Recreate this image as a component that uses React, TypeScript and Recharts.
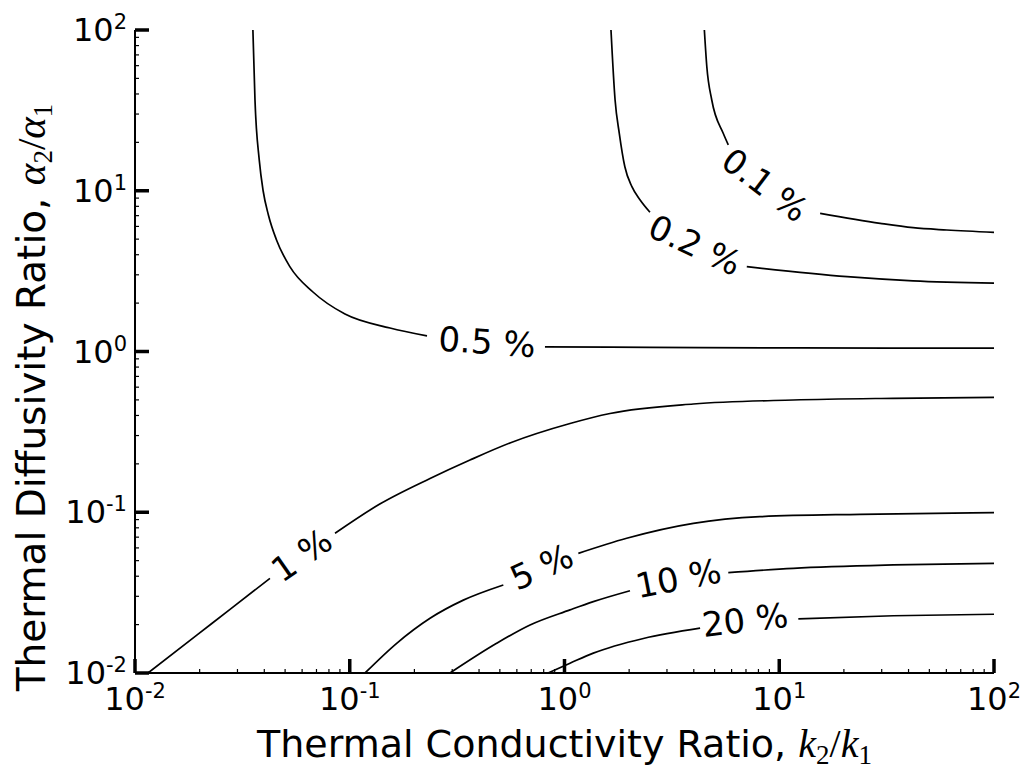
import React from 'react';
import { ComposedChart, Line, Scatter, XAxis, YAxis } from 'recharts';

const FONT = '"DejaVu Sans", sans-serif';
const MATH = '"Liberation Serif", "DejaVu Serif", serif';

const decades = [0.01, 0.1, 1, 10, 100];
const decadeExponents = ['-2', '-1', '0', '1', '2'];
const minorTicks = [
  0.02, 0.03, 0.04, 0.05, 0.06, 0.07, 0.08, 0.09,
  0.2, 0.3, 0.4, 0.5, 0.6, 0.7, 0.8, 0.9,
  2, 3, 4, 5, 6, 7, 8, 9,
  20, 30, 40, 50, 60, 70, 80, 90,
];
const axisTicks = [...decades, ...minorTicks].sort((a, b) => a - b);

// contour segments as (k2/k1, alpha2/alpha1); each contour is cut where its label sits
const c01Upper = [
  { x: 4.48, y: 100 }, { x: 4.6, y: 59.1 }, { x: 4.85, y: 36.7 }, { x: 5.49, y: 22.7 }, { x: 5.79, y: 19.3 },
];
const c01Lower = [
  { x: 15.5, y: 7.24 }, { x: 29.5, y: 6.27 }, { x: 42, y: 5.89 }, { x: 60.3, y: 5.7 }, { x: 100, y: 5.51 },
];
const c02Upper = [
  { x: 1.646, y: 100 }, { x: 1.72, y: 36.7 }, { x: 1.8, y: 22.7 }, { x: 1.91, y: 14.1 },
  { x: 2.06, y: 10.6 }, { x: 2.25, y: 8.76 }, { x: 2.5, y: 7.35 },
];
const c02Lower = [
  { x: 7.06, y: 3.37 }, { x: 20.7, y: 2.92 }, { x: 42, y: 2.75 }, { x: 100, y: 2.66 },
];
const c05Upper = [
  { x: 0.0354, y: 100 }, { x: 0.0362, y: 36.7 }, { x: 0.0379, y: 15.5 }, { x: 0.0395, y: 10 },
  { x: 0.0418, y: 7.07 }, { x: 0.0456, y: 4.94 }, { x: 0.0527, y: 3.36 }, { x: 0.0674, y: 2.345 },
  { x: 0.095, y: 1.711 }, { x: 0.154, y: 1.4 }, { x: 0.229, y: 1.25 },
];
const c05Lower = [
  { x: 0.811, y: 1.07 }, { x: 2.5, y: 1.06 }, { x: 12, y: 1.053 }, { x: 100, y: 1.05 },
];
const c1Left = [
  { x: 0.0115, y: 0.01 }, { x: 0.0194, y: 0.0172 }, { x: 0.0277, y: 0.0249 }, { x: 0.0425, y: 0.0388 },
];
const c1Right = [
  { x: 0.0854, y: 0.074 }, { x: 0.138, y: 0.1125 }, { x: 0.2365, y: 0.1622 }, { x: 0.363, y: 0.2113 },
  { x: 0.557, y: 0.2697 }, { x: 1.061, y: 0.3565 }, { x: 1.629, y: 0.4114 }, { x: 3.98, y: 0.4715 },
  { x: 11.63, y: 0.4993 }, { x: 33.96, y: 0.5116 }, { x: 100, y: 0.5188 },
];
const c5Left = [
  { x: 0.1178, y: 0.01 }, { x: 0.1654, y: 0.0153 }, { x: 0.2365, y: 0.0219 }, { x: 0.338, y: 0.0284 },
  { x: 0.519, y: 0.0353 },
];
const c5Right = [
  { x: 1.16, y: 0.0555 }, { x: 1.948, y: 0.0689 }, { x: 3.98, y: 0.0853 }, { x: 8.13, y: 0.0938 },
  { x: 23.8, y: 0.0971 }, { x: 100, y: 0.0994 },
];
const c10Left = [
  { x: 0.293, y: 0.01 }, { x: 0.483, y: 0.0153 }, { x: 0.691, y: 0.0199 }, { x: 1.061, y: 0.0247 },
  { x: 1.362, y: 0.0278 }, { x: 2.018, y: 0.0325 },
];
const c10Right = [
  { x: 5.79, y: 0.0421 }, { x: 11.63, y: 0.0448 }, { x: 33.96, y: 0.047 }, { x: 100, y: 0.0481 },
];
const c20Left = [
  { x: 0.838, y: 0.01 }, { x: 1.061, y: 0.0115 }, { x: 1.362, y: 0.0133 },
  { x: 2.33, y: 0.0164 }, { x: 4.28, y: 0.019 },
];
const c20Right = [
  { x: 12.27, y: 0.0217 }, { x: 33.96, y: 0.0227 }, { x: 100, y: 0.0232 },
];

const segments = [
  c01Upper, c01Lower, c02Upper, c02Lower, c05Upper, c05Lower,
  c1Left, c1Right, c5Left, c5Right, c10Left, c10Right, c20Left, c20Right,
];

const labelTexts = ['0.1 %', '0.2 %', '0.5 %', '1 %', '5 %', '10 %', '20 %'];
const labelK = [8.59, 4.05, 0.436, 0.0597, 0.783, 3.39, 6.93];
const labelAlpha = [10.86, 4.6, 1.146, 0.0542, 0.0458, 0.0388, 0.0214];
const labelAngles = [37, 25, 4, -35, -24, -11, -7];

const labelData = labelTexts.map((text, i) => ({ x: labelK[i], y: labelAlpha[i], text, angle: labelAngles[i] }));

// plot frame inside the svg
const PLOT = { left: 127, right: 986, top: 22, bottom: 665 };
const MAJOR_LEN = 14;
const MINOR_LEN = 4;
const axisLine = { stroke: '#000', strokeWidth: 2 };

const tickW = (major: boolean) => (major ? 3.5 : 1.2);
const coord = (props: any, fallback: number) =>
  props.payload && typeof props.payload.coordinate === 'number' ? props.payload.coordinate : fallback;

const TickText = ({ x, y, anchor, exp }: any) => (
  <text x={x} y={y} textAnchor={anchor} fontFamily={FONT} fontSize={32} fill="#000">
    10<tspan dy={-12} fontSize={21}>{exp}</tspan>
  </text>
);

const BottomTick = (props: any) => {
  const x = coord(props, props.x);
  const y = PLOT.bottom;
  const i = decades.indexOf(props.payload.value);
  const major = i >= 0;
  return (
    <g>
      <line x1={x} x2={x} y1={y} y2={y - (major ? MAJOR_LEN : MINOR_LEN)} stroke="#000" strokeWidth={tickW(major)} />
      {major && <TickText x={x} y={y + 37} anchor="middle" exp={decadeExponents[i]} />}
    </g>
  );
};

const TopTick = (props: any) => {
  const x = coord(props, props.x);
  const y = PLOT.top;
  const major = decades.includes(props.payload.value);
  return <line x1={x} x2={x} y1={y} y2={y + (major ? MAJOR_LEN : MINOR_LEN)} stroke="#000" strokeWidth={tickW(major)} />;
};

const LeftTick = (props: any) => {
  const y = coord(props, props.y);
  const x = PLOT.left;
  const i = decades.indexOf(props.payload.value);
  const major = i >= 0;
  return (
    <g>
      <line x1={x} x2={x + (major ? MAJOR_LEN : MINOR_LEN)} y1={y} y2={y} stroke="#000" strokeWidth={tickW(major)} />
      {major && <TickText x={x - 8} y={y + 11} anchor="end" exp={decadeExponents[i]} />}
    </g>
  );
};

const RightTick = (props: any) => {
  const y = coord(props, props.y);
  const x = PLOT.right;
  const major = decades.includes(props.payload.value);
  return <line x1={x} x2={x - (major ? MAJOR_LEN : MINOR_LEN)} y1={y} y2={y} stroke="#000" strokeWidth={tickW(major)} />;
};

const ContourLabel = ({ cx, cy, payload }: any) => (
  <text
    x={cx}
    y={cy}
    transform={`rotate(${payload.angle} ${cx} ${cy})`}
    textAnchor="middle"
    dominantBaseline="central"
    fontFamily={FONT}
    fontSize={34}
    fill="#000"
  >
    {payload.text}
  </text>
);

const XTitle = () => {
  const tx = (PLOT.left + PLOT.right) / 2;
  const ty = PLOT.bottom + 84;
  return (
    <text x={tx} y={ty} textAnchor="middle" fontFamily={FONT} fontSize={38} fill="#000">
      {'Thermal Conductivity Ratio, '}
      <tspan fontFamily={MATH} fontStyle="italic" fontSize={40}>k</tspan>
      <tspan fontFamily={MATH} fontSize={27} dy={7}>2</tspan>
      <tspan fontFamily={MATH} fontSize={40} dy={-7}>/</tspan>
      <tspan fontFamily={MATH} fontStyle="italic" fontSize={40}>k</tspan>
      <tspan fontFamily={MATH} fontSize={27} dy={7}>1</tspan>
    </text>
  );
};

const YTitle = () => {
  const tx = 37;
  const ty = (PLOT.top + PLOT.bottom) / 2 + 46;
  return (
    <text x={tx} y={ty} transform={`rotate(-90 ${tx} ${ty})`} textAnchor="middle" fontFamily={FONT} fontSize={39} fill="#000">
      {'Thermal Diffusivity Ratio, '}
      <tspan fontFamily={MATH} fontStyle="italic" fontSize={41}>α</tspan>
      <tspan fontFamily={MATH} fontSize={27} dy={7}>2</tspan>
      <tspan fontFamily={MATH} fontSize={41} dy={-7}>/</tspan>
      <tspan fontFamily={MATH} fontStyle="italic" fontSize={41}>α</tspan>
      <tspan fontFamily={MATH} fontSize={27} dy={7}>1</tspan>
    </text>
  );
};

const logAxis = {
  type: 'number' as const,
  scale: 'log' as const,
  domain: [0.01, 100],
  allowDataOverflow: true,
  ticks: axisTicks,
  interval: 0,
  tickSize: 0,
  tickMargin: 0,
  axisLine,
  tickLine: false,
};

export default function App() {
  return (
    <ComposedChart width={1012} height={762} margin={{ top: 22, right: 26, bottom: 8, left: 0 }}>
      <XAxis xAxisId="bottom" dataKey="x" {...logAxis} height={89} tick={BottomTick} label={XTitle} />
      <XAxis xAxisId="top" dataKey="x" orientation="top" {...logAxis} height={0} tick={TopTick} />
      <YAxis yAxisId="left" dataKey="y" {...logAxis} width={127} tick={LeftTick} label={YTitle} />
      <YAxis yAxisId="right" dataKey="y" orientation="right" {...logAxis} width={0} tick={RightTick} />
      {segments.map((seg, i) => (
        <Line
          key={i}
          xAxisId="bottom"
          yAxisId="left"
          data={seg}
          dataKey="y"
          type="monotone"
          stroke="#000"
          strokeWidth={1.7}
          dot={false}
          activeDot={false}
          isAnimationActive={false}
        />
      ))}
      <Scatter xAxisId="bottom" yAxisId="left" data={labelData} dataKey="y" shape={ContourLabel} isAnimationActive={false} />
    </ComposedChart>
  );
}
